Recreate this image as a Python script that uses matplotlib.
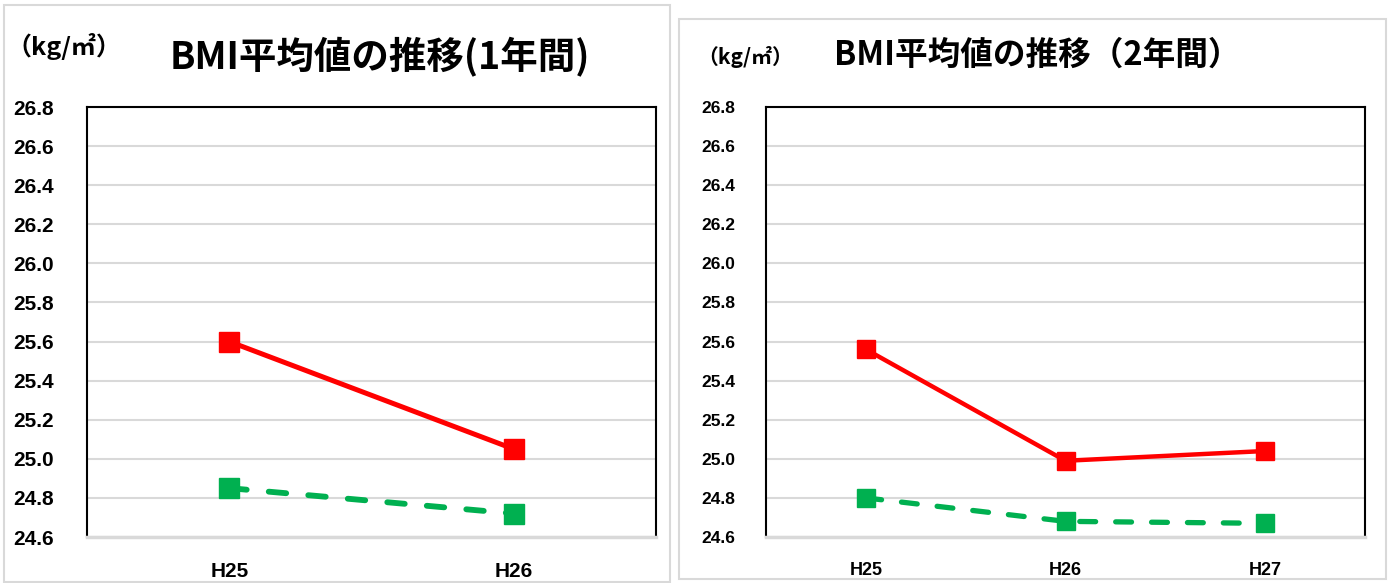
import matplotlib
matplotlib.use("Agg")
import matplotlib.pyplot as plt
from matplotlib.patches import Rectangle

W, H = 1393, 583
plt.rcParams['font.family'] = ['Noto Sans CJK JP', 'DejaVu Sans']

# Data
cats1 = ["H25", "H26"]
red1 = [25.60, 25.05]
green1 = [24.85, 24.72]

cats2 = ["H25", "H26", "H27"]
red2 = [25.56, 24.99, 25.04]
green2 = [24.80, 24.68, 24.67]

yticks = [24.6, 24.8, 25.0, 25.2, 25.4, 25.6, 25.8, 26.0, 26.2, 26.4, 26.6, 26.8]
title1 = "BMI平均値の推移(1年間)"
title2 = "BMI平均値の推移（2年間）"
unit = "（kg/㎡）"

RED = "#ff0000"
GREEN = "#00b050"
GRID = "#d9d9d9"

fig = plt.figure(figsize=(W / 100, H / 100), dpi=100)

def fx(px):
    return px / W

def fy(py):
    return 1 - py / H

# panel backgrounds
fig.patches.append(Rectangle((fx(4), fy(582)), fx(666), 577 / H, transform=fig.transFigure,
                             facecolor="white", edgecolor=GRID, lw=1.5, zorder=-5))
fig.patches.append(Rectangle((fx(679), fy(579)), fx(707), 560 / H, transform=fig.transFigure,
                             facecolor="white", edgecolor=GRID, lw=1.5, zorder=-5))

tickfont = ['Liberation Sans', 'DejaVu Sans']

def make_axes(rect, cats, red, green, tsize, xsize, ms, lw, glw, ypad):
    ax = fig.add_axes(rect)
    ax.patch.set_alpha(0)
    x = list(range(len(cats)))
    ax.plot(x, red, color=RED, lw=lw, marker="s", ms=ms, zorder=3, clip_on=False)
    ax.plot(x, green, color=GREEN, lw=glw, ls=(0, (3.0, 3.8)), marker="s", ms=ms,
            zorder=3, clip_on=False, dash_capstyle="round")
    ax.set_xlim(-0.5, len(cats) - 0.5)
    ax.set_ylim(24.6, 26.8)
    ax.set_yticks(yticks)
    ax.set_yticklabels([f"{v:.1f}" for v in yticks], fontsize=tsize, fontweight="bold",
                       family=tickfont)
    ax.set_xticks(x)
    ax.set_xticklabels(cats, fontsize=xsize, fontweight="bold", family=tickfont)
    ax.tick_params(axis="both", length=0)
    ax.tick_params(axis="y", pad=ypad)
    ax.tick_params(axis="x", pad=18)
    ax.grid(axis="y", color=GRID, lw=1.5)
    ax.set_axisbelow(True)
    for s in ["left", "top", "right"]:
        ax.spines[s].set_color("black")
        ax.spines[s].set_linewidth(1.5)
    ax.spines["bottom"].set_color(GRID)
    ax.spines["bottom"].set_linewidth(2.5)
    return ax

ax1 = make_axes([fx(87), fy(537), fx(569), 430 / H], cats1, red1, green1, 15, 15, 14, 3.6, 4.2, 24)
ax2 = make_axes([fx(766), fy(537), fx(599), 430 / H], cats2, red2, green2, 12.5, 13, 12.5, 3.2, 3.8, 22)

fig.text(fx(380), fy(57), title1, fontsize=27, fontweight="bold", ha="center", va="center")
fig.text(fx(1037), fy(55), title2, fontsize=23.5, fontweight="bold", ha="center", va="center")
fig.text(fx(6), fy(47), unit, fontsize=18, fontweight="bold", ha="left", va="center")
fig.text(fx(697), fy(57), unit, fontsize=15, fontweight="bold", ha="left", va="center")

fig.savefig("out.png", dpi=100, facecolor="white")
